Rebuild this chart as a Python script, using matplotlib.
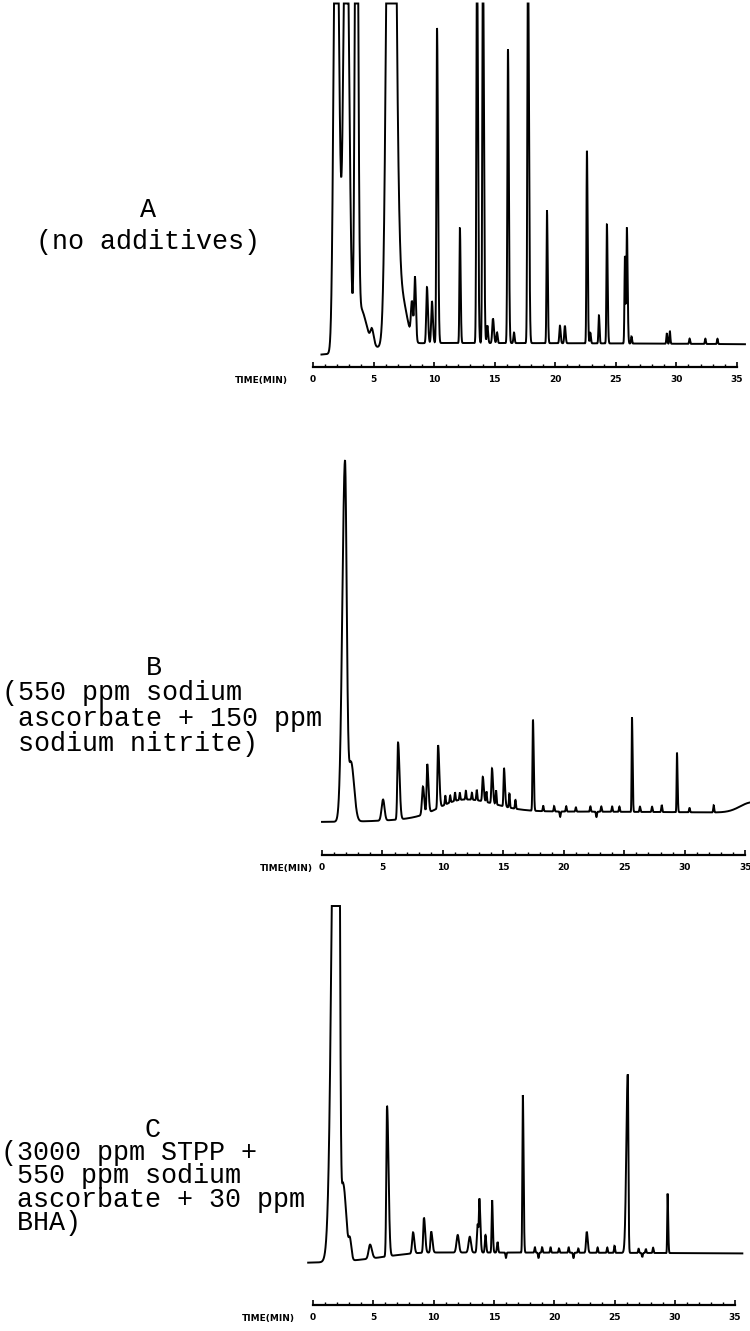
import numpy as np
import matplotlib
matplotlib.use("Agg")
import matplotlib.pyplot as plt

# peak tables: retention time (min),
# height (% of recorder full scale), left / right half-width (min)
a_times = [1.90, 2.72, 3.59, 3.90, 4.87, 6.45, 7.20, 8.17, 8.42, 9.41, 9.82, 10.24,
           12.13, 13.54, 14.03, 14.40, 14.86, 15.20, 16.10, 16.60, 17.75, 19.32,
           20.39, 20.80, 22.62, 22.90, 23.61, 24.27, 25.76, 25.92, 26.30, 29.22,
           29.47, 31.10, 32.40, 33.40, 10.0]
a_heights = [160, 150, 200, 12, 4, 300, 15, 10, 18, 16, 12, 90,
             33, 115, 115, 5, 7, 3, 84, 3, 115, 38,
             5, 5, 55, 3, 8, 34, 25, 33, 2, 3,
             3.5, 1.5, 1.5, 1.5, 4]
a_left = [0.18, 0.20, 0.12, 0.20, 0.12, 0.28, 0.30, 0.08, 0.06, 0.06, 0.06, 0.05,
          0.04, 0.05, 0.05, 0.05, 0.06, 0.05, 0.05, 0.05, 0.05, 0.04,
          0.05, 0.05, 0.04, 0.04, 0.04, 0.04, 0.04, 0.04, 0.04, 0.04,
          0.04, 0.04, 0.04, 0.04, 5.0]
a_right = [0.23, 0.24, 0.12, 0.50, 0.15, 0.30, 0.50, 0.10, 0.08, 0.08, 0.08, 0.08,
           0.06, 0.08, 0.08, 0.06, 0.08, 0.05, 0.07, 0.05, 0.08, 0.06,
           0.06, 0.06, 0.06, 0.05, 0.05, 0.06, 0.05, 0.06, 0.04, 0.04,
           0.04, 0.04, 0.04, 0.04, 60.0]

b_times = [1.90, 2.40, 5.05, 6.29, 8.35, 8.70, 9.60, 11.5, 10.2, 10.6, 11.0, 11.4,
           11.9, 12.4, 12.8, 13.30, 13.60, 14.06, 14.40, 15.05, 15.50, 16.00, 17.45,
           18.3, 19.2, 19.7, 20.2, 21.0, 22.2, 22.7, 23.1, 24.0, 24.6, 25.64,
           26.3, 27.3, 28.1, 29.36, 30.4, 32.4, 35.6, 15.0]
b_heights = [102, 17, 6, 22, 8, 14, 18, 4, 2.5, 2, 2.5, 2,
             2.5, 2, 3, 7, 3, 10, 4, 11, 4, 2.5, 26,
             1.5, 1.5, -1.5, 1.5, 1.2, 1.5, -1.5, 1.5, 1.5, 1.5, 27,
             1.5, 1.5, 2.0, 17, 1.2, 2.0, 3, 3]
b_left = [0.22, 0.22, 0.12, 0.06, 0.08, 0.05, 0.05, 1.8, 0.04, 0.04, 0.04, 0.04,
          0.04, 0.04, 0.04, 0.05, 0.04, 0.05, 0.04, 0.04, 0.04, 0.04, 0.04,
          0.04, 0.04, 0.04, 0.04, 0.04, 0.04, 0.04, 0.04, 0.04, 0.04, 0.03,
          0.04, 0.04, 0.04, 0.03, 0.04, 0.04, 1.0, 5.0]
b_right = [0.14, 0.25, 0.12, 0.12, 0.10, 0.10, 0.10, 2.5, 0.04, 0.04, 0.04, 0.04,
           0.04, 0.04, 0.04, 0.08, 0.04, 0.08, 0.04, 0.08, 0.04, 0.04, 0.06,
           0.04, 0.04, 0.04, 0.04, 0.04, 0.04, 0.04, 0.04, 0.04, 0.04, 0.05,
           0.04, 0.04, 0.04, 0.05, 0.04, 0.04, 2.0, 40.0]

c_times = [2.06, 2.50, 3.07, 4.73, 6.14, 8.30, 9.20, 9.80, 12.0, 13.0, 13.65, 13.80,
           14.30, 14.85, 15.30, 16.0, 17.40, 18.4, 18.7, 19.0, 19.7, 20.4, 21.2,
           21.6, 22.0, 22.70, 23.6, 24.4, 25.0, 26.10, 27.0, 27.3, 27.6, 28.2,
           29.40, 10.0]
c_heights = [300, 22, 5, 4, 43, 6, 10, 6, 5, 4.5, 8, 14,
             5, 15, 3, -1.5, 45, 1.5, -1.5, 1.5, 1.5, 1.2, 1.5,
             -1.5, 1.2, 6, 1.5, 1.5, 2, 51, 1.2, -1.2, 1.2, 1.5,
             17, 3]
c_left = [0.35, 0.15, 0.10, 0.12, 0.06, 0.08, 0.06, 0.06, 0.10, 0.10, 0.06, 0.04,
          0.05, 0.04, 0.05, 0.04, 0.04, 0.04, 0.04, 0.04, 0.04, 0.04, 0.04,
          0.04, 0.04, 0.06, 0.04, 0.04, 0.04, 0.12, 0.04, 0.04, 0.04, 0.04,
          0.03, 4.0]
c_right = [0.12, 0.25, 0.12, 0.15, 0.12, 0.10, 0.10, 0.10, 0.10, 0.10, 0.08, 0.08,
           0.06, 0.06, 0.05, 0.04, 0.06, 0.04, 0.04, 0.04, 0.04, 0.04, 0.04,
           0.04, 0.04, 0.08, 0.04, 0.04, 0.04, 0.05, 0.04, 0.04, 0.04, 0.04,
           0.05, 60.0]

tick_minutes = [0, 5, 10, 15, 20, 25, 30, 35]
tick_labels = ['0', '5', '10', '15', '20', '25', '30', '35']

label_a = ['A', '(no additives)']
label_b = ['         B', '(550 ppm sodium', ' ascorbate + 150 ppm', ' sodium nitrite)']
label_c = ['         C', '(3000 ppm STPP +', ' 550 ppm sodium', ' ascorbate + 30 ppm', ' BHA)']

W, H = 750, 1331
fig = plt.figure(figsize=(W / 100, H / 100), dpi=100)
fig.patch.set_facecolor('white')

PX_UNIT = 3.5  # pixels per % full scale


def add_px_axes(left, top, right, bottom):
    return fig.add_axes([left / W, 1 - bottom / H, (right - left) / W, (bottom - top) / H])


def peaks(t, times, heights, left, right):
    y = np.zeros_like(t)
    for c, h, a, b in zip(times, heights, left, right):
        s = np.where(t < c, a, b)
        y += h * np.exp(-0.5 * ((t - c) / s) ** 2)
    return y


def plot_panel(data, x0, ppm, y0, clip, t_span, ruler_y, time_label_x):
    times, heights, left, right = data
    lpx = x0 - 1 * ppm
    rpx = x0 + 36 * ppm
    ax = add_px_axes(lpx, y0 - 104 * PX_UNIT, rpx, y0 + 4 * PX_UNIT)
    t = np.linspace(t_span[0], t_span[1], 8000)
    sig = np.minimum(peaks(t, times, heights, left, right), clip)
    ax.plot(t, sig, color='black', lw=1.4, solid_joinstyle='miter', clip_on=False)
    ax.set_xlim(-1, 36)
    ax.set_ylim(-4, 104)
    ax.axis('off')

    # time ruler below the trace
    rax = add_px_axes(lpx, ruler_y - 20, rpx, ruler_y)
    rax.set_xlim(-1, 36)
    rax.patch.set_alpha(0)
    for s in ['top', 'left', 'right']:
        rax.spines[s].set_visible(False)
    rax.spines['bottom'].set_bounds(0, 35)
    rax.spines['bottom'].set_linewidth(1.6)
    rax.set_yticks([])
    rax.set_xticks(tick_minutes)
    rax.set_xticklabels(tick_labels)
    rax.set_xticks(range(0, 36), minor=True)
    rax.tick_params(axis='x', which='major', direction='in', length=3.5, width=1.2, pad=6,
                    labelsize=6.5)
    rax.tick_params(axis='x', which='minor', direction='in', length=2, width=1.0)
    for lab in rax.get_xticklabels():
        lab.set_fontweight('bold')
    fig.text(time_label_x / W, 1 - (ruler_y + 14) / H, 'TIME(MIN)', fontsize=6.5,
             fontweight='bold', ha='center', va='center')


plot_panel((a_times, a_heights, a_left, a_right), 313, 12.11, 357, 101,
           (0.7, 35.67), 367, 261)
plot_panel((b_times, b_heights, b_left, b_right), 322, 12.09, 822, 110,
           (0.0, 35.4), 855, 286)
plot_panel((c_times, c_heights, c_left, c_right), 313, 12.06, 1263, 102,
           (-0.4, 35.6), 1305, 268)

mono = dict(family=['Liberation Mono', 'DejaVu Sans Mono'], fontsize=19.3)

# each caption is one multi-line text block (top edge given in pixels)
fig.text(148 / W, 1 - 197 / H, '\n'.join(label_a), ha='center', va='top',
         multialignment='center', linespacing=1.3, **mono)
fig.text(2 / W, 1 - 655 / H, '\n'.join(label_b), ha='left', va='top',
         multialignment='left', linespacing=0.97, **mono)
fig.text(1 / W, 1 - 1117 / H, '\n'.join(label_c), ha='left', va='top',
         multialignment='left', linespacing=0.86, **mono)

fig.savefig('out.png', dpi=100, facecolor='white')
